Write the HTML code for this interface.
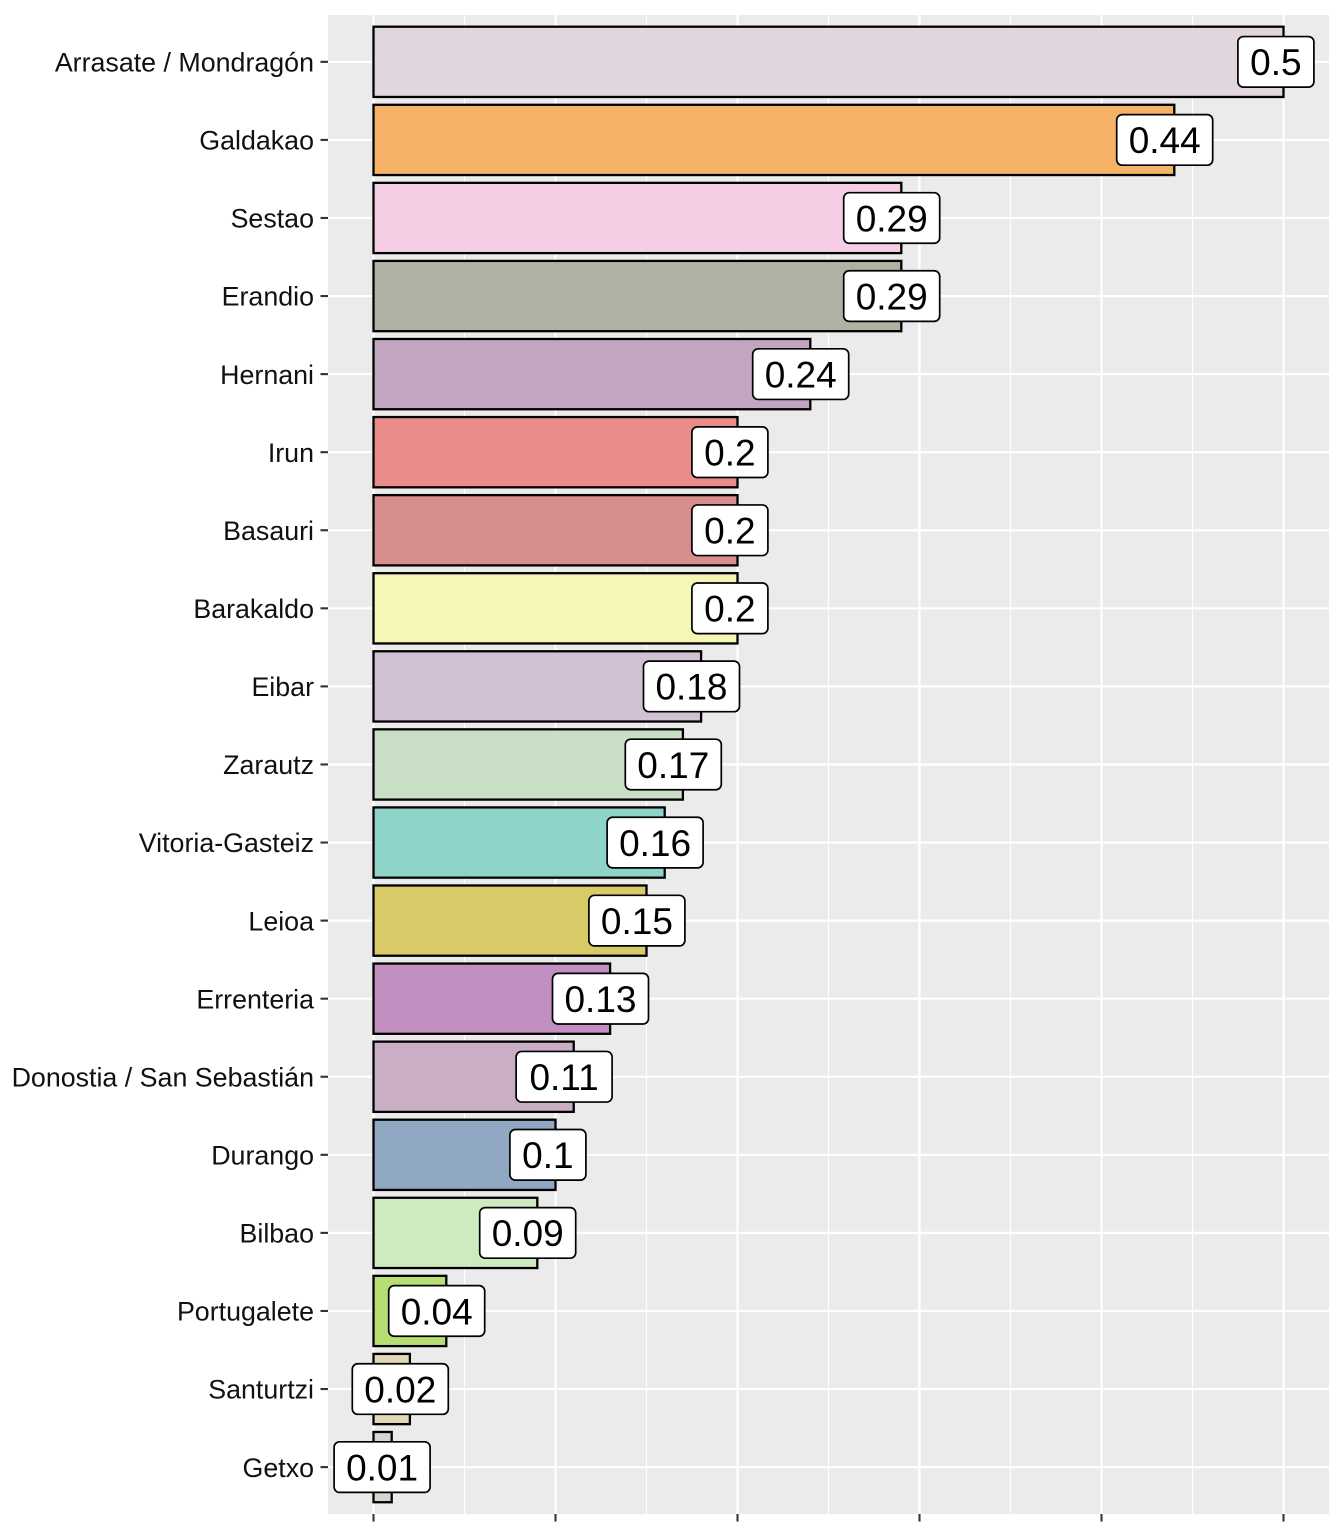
<!DOCTYPE html>
<html><head><meta charset="utf-8"><style>
html,body{margin:0;padding:0;background:#fff;}
svg{display:block;}
</style></head><body>
<svg width="1344" height="1536" viewBox="0 0 1344 1536" xmlns="http://www.w3.org/2000/svg">
<rect x="0" y="0" width="1344" height="1536" fill="#fff"/>
<rect x="328" y="15" width="1001" height="1499" fill="#EBEBEB"/>
<g stroke="#fff" stroke-width="1.1">
<line x1="464.5" y1="15" x2="464.5" y2="1514"/>
<line x1="646.5" y1="15" x2="646.5" y2="1514"/>
<line x1="828.5" y1="15" x2="828.5" y2="1514"/>
<line x1="1010.5" y1="15" x2="1010.5" y2="1514"/>
<line x1="1192.5" y1="15" x2="1192.5" y2="1514"/>
</g>
<g stroke="#fff" stroke-width="2.2">
<line x1="373.5" y1="15" x2="373.5" y2="1514"/>
<line x1="555.5" y1="15" x2="555.5" y2="1514"/>
<line x1="737.5" y1="15" x2="737.5" y2="1514"/>
<line x1="919.5" y1="15" x2="919.5" y2="1514"/>
<line x1="1101.5" y1="15" x2="1101.5" y2="1514"/>
<line x1="1283.5" y1="15" x2="1283.5" y2="1514"/>
<line x1="328" y1="61.84" x2="1329" y2="61.84"/>
<line x1="328" y1="139.91" x2="1329" y2="139.91"/>
<line x1="328" y1="217.98" x2="1329" y2="217.98"/>
<line x1="328" y1="296.05" x2="1329" y2="296.05"/>
<line x1="328" y1="374.12" x2="1329" y2="374.12"/>
<line x1="328" y1="452.19" x2="1329" y2="452.19"/>
<line x1="328" y1="530.26" x2="1329" y2="530.26"/>
<line x1="328" y1="608.33" x2="1329" y2="608.33"/>
<line x1="328" y1="686.40" x2="1329" y2="686.40"/>
<line x1="328" y1="764.47" x2="1329" y2="764.47"/>
<line x1="328" y1="842.54" x2="1329" y2="842.54"/>
<line x1="328" y1="920.61" x2="1329" y2="920.61"/>
<line x1="328" y1="998.68" x2="1329" y2="998.68"/>
<line x1="328" y1="1076.75" x2="1329" y2="1076.75"/>
<line x1="328" y1="1154.82" x2="1329" y2="1154.82"/>
<line x1="328" y1="1232.89" x2="1329" y2="1232.89"/>
<line x1="328" y1="1310.96" x2="1329" y2="1310.96"/>
<line x1="328" y1="1389.03" x2="1329" y2="1389.03"/>
<line x1="328" y1="1467.10" x2="1329" y2="1467.10"/>
</g>
<g stroke="#000" stroke-width="2.3">
<rect x="373.5" y="26.71" width="910" height="70.26" fill="#E2D6DE"/>
<rect x="373.5" y="104.78" width="800.8" height="70.26" fill="#F6B266"/>
<rect x="373.5" y="182.85" width="527.8" height="70.26" fill="#F5CDE5"/>
<rect x="373.5" y="260.92" width="527.8" height="70.26" fill="#B1B2A4"/>
<rect x="373.5" y="338.99" width="436.8" height="70.26" fill="#C2A5BF"/>
<rect x="373.5" y="417.06" width="364" height="70.26" fill="#EA8C89"/>
<rect x="373.5" y="495.13" width="364" height="70.26" fill="#D78D8C"/>
<rect x="373.5" y="573.20" width="364" height="70.26" fill="#F6F7B6"/>
<rect x="373.5" y="651.27" width="327.6" height="70.26" fill="#D1C2D3"/>
<rect x="373.5" y="729.34" width="309.4" height="70.26" fill="#CAE0C6"/>
<rect x="373.5" y="807.41" width="291.2" height="70.26" fill="#8FD4C8"/>
<rect x="373.5" y="885.48" width="273" height="70.26" fill="#D8CA66"/>
<rect x="373.5" y="963.55" width="236.6" height="70.26" fill="#C28FC0"/>
<rect x="373.5" y="1041.62" width="200.2" height="70.26" fill="#C9AEC5"/>
<rect x="373.5" y="1119.69" width="182" height="70.26" fill="#91A8C3"/>
<rect x="373.5" y="1197.76" width="163.8" height="70.26" fill="#CDEBBE"/>
<rect x="373.5" y="1275.83" width="72.8" height="70.26" fill="#B7DE72"/>
<rect x="373.5" y="1353.90" width="36.4" height="70.26" fill="#E2D7B6"/>
<rect x="373.5" y="1431.97" width="18.2" height="70.26" fill="#D6D5CE"/>
</g>
<g stroke="#000" stroke-width="1.7" fill="#fff">
<rect x="1237.9" y="36.54" width="76" height="50.6" rx="5.5"/>
<rect x="1116.7" y="114.61" width="96" height="50.6" rx="5.5"/>
<rect x="843.7" y="192.68" width="96" height="50.6" rx="5.5"/>
<rect x="843.7" y="270.75" width="96" height="50.6" rx="5.5"/>
<rect x="752.7" y="348.82" width="96" height="50.6" rx="5.5"/>
<rect x="691.9" y="426.89" width="76" height="50.6" rx="5.5"/>
<rect x="691.9" y="504.96" width="76" height="50.6" rx="5.5"/>
<rect x="691.9" y="583.03" width="76" height="50.6" rx="5.5"/>
<rect x="643.5" y="661.10" width="96" height="50.6" rx="5.5"/>
<rect x="625.3" y="739.17" width="96" height="50.6" rx="5.5"/>
<rect x="607.1" y="817.24" width="96" height="50.6" rx="5.5"/>
<rect x="588.9" y="895.31" width="96" height="50.6" rx="5.5"/>
<rect x="552.5" y="973.38" width="96" height="50.6" rx="5.5"/>
<rect x="516.1" y="1051.45" width="96" height="50.6" rx="5.5"/>
<rect x="509.9" y="1129.52" width="76" height="50.6" rx="5.5"/>
<rect x="479.7" y="1207.59" width="96" height="50.6" rx="5.5"/>
<rect x="388.7" y="1285.66" width="96" height="50.6" rx="5.5"/>
<rect x="352.3" y="1363.73" width="96" height="50.6" rx="5.5"/>
<rect x="334.1" y="1441.80" width="96" height="50.6" rx="5.5"/>
</g>
<g font-family="Liberation Sans, Arial, sans-serif" font-size="37" fill="#000" text-anchor="middle">
<text x="1275.9" y="75.1">0.5</text>
<text x="1164.7" y="153.2">0.44</text>
<text x="891.7" y="231.3">0.29</text>
<text x="891.7" y="309.3">0.29</text>
<text x="800.7" y="387.4">0.24</text>
<text x="729.9" y="465.5">0.2</text>
<text x="729.9" y="543.5">0.2</text>
<text x="729.9" y="621.6">0.2</text>
<text x="691.5" y="699.7">0.18</text>
<text x="673.3" y="777.8">0.17</text>
<text x="655.1" y="855.8">0.16</text>
<text x="636.9" y="933.9">0.15</text>
<text x="600.5" y="1012.0">0.13</text>
<text x="564.1" y="1090.0">0.11</text>
<text x="547.9" y="1168.1">0.1</text>
<text x="527.7" y="1246.2">0.09</text>
<text x="436.7" y="1324.3">0.04</text>
<text x="400.3" y="1402.3">0.02</text>
<text x="382.1" y="1480.4">0.01</text>
</g>
<g stroke="#333" stroke-width="2.1">
<line x1="320.5" y1="61.84" x2="328" y2="61.84"/>
<line x1="320.5" y1="139.91" x2="328" y2="139.91"/>
<line x1="320.5" y1="217.98" x2="328" y2="217.98"/>
<line x1="320.5" y1="296.05" x2="328" y2="296.05"/>
<line x1="320.5" y1="374.12" x2="328" y2="374.12"/>
<line x1="320.5" y1="452.19" x2="328" y2="452.19"/>
<line x1="320.5" y1="530.26" x2="328" y2="530.26"/>
<line x1="320.5" y1="608.33" x2="328" y2="608.33"/>
<line x1="320.5" y1="686.40" x2="328" y2="686.40"/>
<line x1="320.5" y1="764.47" x2="328" y2="764.47"/>
<line x1="320.5" y1="842.54" x2="328" y2="842.54"/>
<line x1="320.5" y1="920.61" x2="328" y2="920.61"/>
<line x1="320.5" y1="998.68" x2="328" y2="998.68"/>
<line x1="320.5" y1="1076.75" x2="328" y2="1076.75"/>
<line x1="320.5" y1="1154.82" x2="328" y2="1154.82"/>
<line x1="320.5" y1="1232.89" x2="328" y2="1232.89"/>
<line x1="320.5" y1="1310.96" x2="328" y2="1310.96"/>
<line x1="320.5" y1="1389.03" x2="328" y2="1389.03"/>
<line x1="320.5" y1="1467.10" x2="328" y2="1467.10"/>
<line x1="373.5" y1="1514" x2="373.5" y2="1521.5"/>
<line x1="555.5" y1="1514" x2="555.5" y2="1521.5"/>
<line x1="737.5" y1="1514" x2="737.5" y2="1521.5"/>
<line x1="919.5" y1="1514" x2="919.5" y2="1521.5"/>
<line x1="1101.5" y1="1514" x2="1101.5" y2="1521.5"/>
<line x1="1283.5" y1="1514" x2="1283.5" y2="1521.5"/>
</g>
<g font-family="Liberation Sans, Arial, sans-serif" font-size="26.8" fill="#111" text-anchor="end">
<text x="314" y="71.5">Arrasate / Mondragón</text>
<text x="314" y="149.6">Galdakao</text>
<text x="314" y="227.7">Sestao</text>
<text x="314" y="305.7">Erandio</text>
<text x="314" y="383.8">Hernani</text>
<text x="314" y="461.9">Irun</text>
<text x="314" y="539.9">Basauri</text>
<text x="314" y="618.0">Barakaldo</text>
<text x="314" y="696.1">Eibar</text>
<text x="314" y="774.2">Zarautz</text>
<text x="314" y="852.2">Vitoria-Gasteiz</text>
<text x="314" y="930.3">Leioa</text>
<text x="314" y="1008.4">Errenteria</text>
<text x="314" y="1086.4">Donostia / San Sebastián</text>
<text x="314" y="1164.5">Durango</text>
<text x="314" y="1242.6">Bilbao</text>
<text x="314" y="1320.7">Portugalete</text>
<text x="314" y="1398.7">Santurtzi</text>
<text x="314" y="1476.8">Getxo</text>
</g>
</svg>
</body></html>
